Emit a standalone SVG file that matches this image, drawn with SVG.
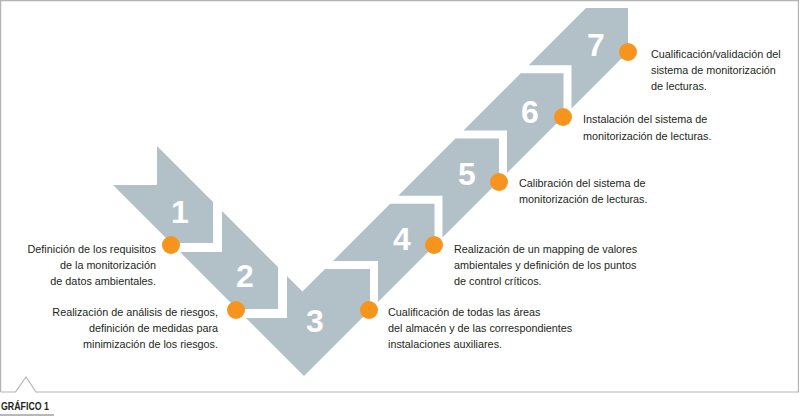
<svg xmlns="http://www.w3.org/2000/svg" width="800" height="416" viewBox="0 0 800 416">
<style>
.seg{fill:#b2c0c8}
.dot{fill:#f7941d}
.num{font-family:"Liberation Sans",Arial,sans-serif;font-weight:bold;font-size:32px;fill:#ffffff;text-anchor:middle}
.lbl{font-family:"Liberation Sans",Arial,sans-serif;font-size:10.8px;fill:#231f20}
.r{text-anchor:end}
.frame{fill:none;stroke:#b4b4b4;stroke-width:1.2}
</style>
<rect width="800" height="416" fill="#ffffff"/>
<path class="frame" d="M0.6,392 V0.6 H798.4 V392 H36 L26,377 L15.5,392 H0.6"/>
<g id="connectors"></g>
<g id="step1">
<polygon class="seg" points="157,146 213,202 213,243 171,243 113,185 157,185"/>
<circle class="dot" cx="171" cy="245" r="9"/>
<text class="num" x="180" y="223">1</text>
<text class="lbl r" x="156" y="253">Definición de los requisitos</text>
<text class="lbl r" x="156" y="269">de la monitorización</text>
<text class="lbl r" x="156" y="285">de datos ambientales.</text>
</g>
<g id="step2">
<polygon class="seg" points="222,211 278,267 278,309 237,309 180,252 222,252"/>
<circle class="dot" cx="236" cy="310" r="9"/>
<text class="num" x="245" y="287">2</text>
<text class="lbl r" x="218" y="316">Realización de análisis de riesgos,</text>
<text class="lbl r" x="218" y="332">definición de medidas para</text>
<text class="lbl r" x="218" y="348">minimización de los riesgos.</text>
</g>
<g id="step3">
<polygon class="seg" points="287,276 302.5,291.5 325,269 370,269 370,310 304,376 246,318 287,318"/>
<circle class="dot" cx="369" cy="310" r="9"/>
<text class="num" x="315" y="332">3</text>
<text class="lbl" x="388" y="316">Cualificación de todas las áreas</text>
<text class="lbl" x="388" y="332">del almacén y de las correspondientes</text>
<text class="lbl" x="388" y="348">instalaciones auxiliares.</text>
</g>
<g id="step4">
<polygon class="seg" points="333,261 378,261 378,302 434.5,245.5 434.5,203.75 390.25,203.75"/>
<circle class="dot" cx="434" cy="245" r="9"/>
<text class="num" x="402" y="250">4</text>
<text class="lbl" x="454" y="253">Realización de un mapping de valores</text>
<text class="lbl" x="454" y="269">ambientales y definición de los puntos</text>
<text class="lbl" x="454" y="285">de control críticos.</text>
</g>
<g id="step5">
<polygon class="seg" points="398.25,195.75 442.5,195.75 442.5,237.5 499,181 499,138.5 455.5,138.5"/>
<circle class="dot" cx="499" cy="182" r="9"/>
<text class="num" x="467" y="185">5</text>
<text class="lbl" x="519" y="187">Calibración del sistema de</text>
<text class="lbl" x="519" y="203">monitorización de lecturas.</text>
</g>
<g id="step6">
<polygon class="seg" points="463.5,130.5 507,130.5 507,173 563.5,116.5 563.5,73.25 520.75,73.25"/>
<circle class="dot" cx="563" cy="117" r="9"/>
<text class="num" x="530" y="123">6</text>
<text class="lbl" x="583" y="123">Instalación del sistema de</text>
<text class="lbl" x="583" y="140">monitorización de lecturas.</text>
</g>
<g id="step7">
<polygon class="seg" points="528.75,65.25 571.5,65.25 571.5,108.5 628,52 628,8 586,8"/>
<circle class="dot" cx="628" cy="52" r="9"/>
<text class="num" x="596" y="56">7</text>
<text class="lbl" x="651" y="58">Cualificación/validación del</text>
<text class="lbl" x="651" y="74">sistema de monitorización</text>
<text class="lbl" x="651" y="90">de lecturas.</text>
</g>
<g id="caption">
<text x="1" y="410" font-family="'Liberation Sans',Arial,sans-serif" font-weight="bold" font-size="10.5" fill="#231f20" textLength="48" lengthAdjust="spacingAndGlyphs">GRÁFICO 1</text>
<line x1="0" y1="415" x2="54" y2="415" stroke="#a0a0a0" stroke-width="1.5"/>
</g>
</svg>
